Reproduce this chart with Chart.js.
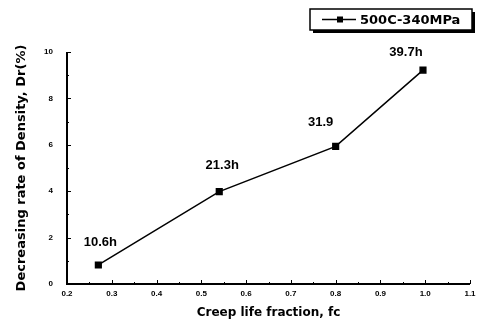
<!DOCTYPE html>
<html>
<head>
<meta charset="utf-8">
<script src="https://cdn.jsdelivr.net/npm/chart.js@4/dist/chart.umd.min.js"></script>
<style>
  html, body { margin: 0; padding: 0; background: #fff; }
  #wrap { width: 478px; height: 324px; }
</style>
</head>
<body>
<div id="wrap"><canvas id="creepChart" width="478" height="324"></canvas></div>
<script>
// === Datos ===
const lifeFraction = [0.27, 0.54, 0.80, 0.995];
const densityRate = [0.82, 3.98, 5.93, 9.22];
const pointLabels = ['10.6h', '21.3h', '31.9', '39.7h'];
const seriesName = '500C-340MPa';
const xTicks = [0.2, 0.3, 0.4, 0.5, 0.6, 0.7, 0.8, 0.9, 1.0, 1.1];
const yTicks = [0, 2, 4, 6, 8, 10];

const FONT = '"Liberation Sans", Arial, sans-serif';
const WIDE = '"DejaVu Sans", sans-serif';

// offsets of the hour labels relative to their points
const labelOffsets = [[2, -23], [3, -26], [-15, -24], [-17, -18]];

// inward major/minor ticks drawn along both axes
const inwardTicks = {
    id: 'inwardTicks',
    afterDraw(chart) {
        const { ctx, chartArea, scales } = chart;
        ctx.save();
        ctx.strokeStyle = '#000';
        ctx.lineWidth = 1;
        // x axis
        for (let v = 0.2; v <= 1.1001; v += 0.05) {
            const px = Math.round(scales.x.getPixelForValue(v)) + 0.5;
            const major = Math.abs(v * 10 - Math.round(v * 10)) < 0.01;
            ctx.beginPath();
            ctx.moveTo(px, chartArea.bottom);
            ctx.lineTo(px, chartArea.bottom - (major ? 4 : 2));
            ctx.stroke();
        }
        // y axis
        for (let v = 0; v <= 10; v += 1) {
            const py = Math.round(scales.y.getPixelForValue(v)) + 0.5;
            ctx.beginPath();
            ctx.moveTo(chartArea.left, py);
            ctx.lineTo(chartArea.left + (v % 2 === 0 ? 4 : 2), py);
            ctx.stroke();
        }
        // axis lines
        ctx.lineWidth = 2;
        ctx.beginPath();
        ctx.moveTo(chartArea.left, chartArea.top);
        ctx.lineTo(chartArea.left, chartArea.bottom);
        ctx.lineTo(chartArea.right, chartArea.bottom);
        ctx.stroke();
        ctx.restore();
    }
};

// hour labels above each point
const hourLabels = {
    id: 'hourLabels',
    afterDatasetsDraw(chart) {
        const { ctx } = chart;
        const meta = chart.getDatasetMeta(0);
        ctx.save();
        ctx.fillStyle = '#000';
        ctx.font = 'bold 13px ' + FONT;
        ctx.textAlign = 'center';
        ctx.textBaseline = 'middle';
        meta.data.forEach((pt, i) => {
            const off = labelOffsets[i] || [0, -20];
            ctx.fillText(pointLabels[i], pt.x + off[0], pt.y + off[1]);
        });
        ctx.restore();
    }
};

// boxed legend with drop shadow, top right
const boxLegend = {
    id: 'boxLegend',
    afterDraw(chart) {
        const { ctx } = chart;
        const x = 310, y = 9, w = 162, h = 21;
        ctx.save();
        ctx.fillStyle = '#000';
        ctx.fillRect(x + 3, y + 3, w, h);
        ctx.fillStyle = '#fff';
        ctx.fillRect(x, y, w, h);
        ctx.strokeStyle = '#000';
        ctx.lineWidth = 1.5;
        ctx.strokeRect(x, y, w, h);
        ctx.beginPath();
        ctx.moveTo(322, y + h / 2);
        ctx.lineTo(356, y + h / 2);
        ctx.stroke();
        ctx.fillStyle = '#000';
        ctx.fillRect(337, y + h / 2 - 3, 6, 6);
        ctx.font = 'bold 13px ' + WIDE;
        ctx.textBaseline = 'middle';
        ctx.fillText(seriesName, 360, y + h / 2 + 1);
        ctx.restore();
    }
};

new Chart(document.getElementById('creepChart').getContext('2d'), {
    type: 'scatter',
    data: {
        datasets: [{
            label: seriesName,
            data: lifeFraction.map((x, i) => ({ x: x, y: densityRate[i] })),
            showLine: true,
            borderColor: '#000',
            backgroundColor: '#000',
            borderWidth: 1.5,
            pointStyle: 'rect',
            pointRadius: 4,
            pointHoverRadius: 4
        }]
    },
    options: {
        responsive: false,
        animation: false,
        layout: { padding: { top: 52, right: 8, left: 0, bottom: 0 } },
        plugins: {
            legend: { display: false },
            tooltip: { enabled: false }
        },
        scales: {
            x: {
                type: 'linear',
                min: 0.2,
                max: 1.1,
                afterBuildTicks: scale => { scale.ticks = xTicks.map(v => ({ value: v })); },
                afterFit: scale => { scale.height = 40; },
                border: { display: false },
                grid: { display: false },
                ticks: {
                    color: '#000',
                    font: { family: FONT, size: 8, weight: 'bold' },
                    padding: -3,
                    maxRotation: 0,
                    callback: v => Number(v).toFixed(1)
                },
                title: {
                    display: true,
                    text: 'Creep life fraction, fc',
                    color: '#000',
                    font: { family: WIDE, size: 12, weight: 'bold' },
                    padding: { top: 6 }
                }
            },
            y: {
                min: 0,
                max: 10,
                afterBuildTicks: scale => { scale.ticks = yTicks.map(v => ({ value: v })); },
                afterFit: scale => { scale.width = 67; },
                border: { display: false },
                grid: { display: false },
                ticks: {
                    color: '#000',
                    font: { family: FONT, size: 8, weight: 'bold' },
                    padding: 6
                },
                title: {
                    display: true,
                    text: 'Decreasing rate of Density, Dr(%)',
                    color: '#000',
                    font: { family: WIDE, size: 13, weight: 'bold' },
                    padding: { top: 14, bottom: 4 }
                }
            }
        }
    },
    plugins: [inwardTicks, hourLabels, boxLegend]
});
</script>
</body>
</html>
